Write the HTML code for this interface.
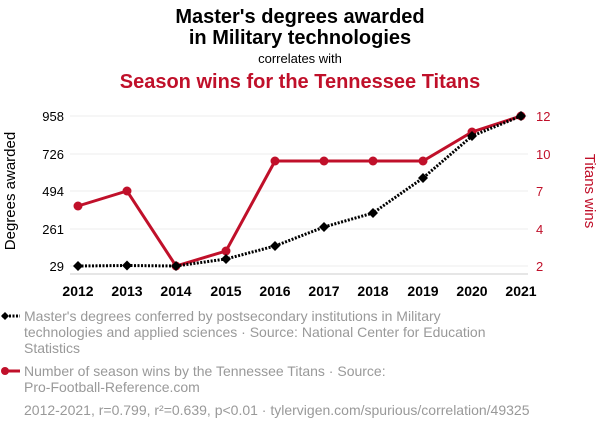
<!DOCTYPE html>
<html><head><meta charset="utf-8"><style>
body{margin:0;background:#fff;width:600px;height:430px;overflow:hidden;font-family:"Liberation Sans",sans-serif}
</style></head><body>
<svg width="600" height="430" xmlns="http://www.w3.org/2000/svg" font-family="Liberation Sans, sans-serif">
<text x="300" y="23" text-anchor="middle" font-size="20" font-weight="bold" fill="#000">Master's degrees awarded</text>
<text x="300" y="44" text-anchor="middle" font-size="20" font-weight="bold" fill="#000">in Military technologies</text>
<text x="300" y="63" text-anchor="middle" font-size="13" fill="#000">correlates with</text>
<text x="300" y="88" text-anchor="middle" font-size="20" font-weight="bold" fill="#c0102a">Season wins for the Tennessee Titans</text>
<g stroke="#eee" stroke-width="1">
<line x1="70" x2="528" y1="116" y2="116"/><line x1="70" x2="528" y1="154" y2="154"/><line x1="70" x2="528" y1="191" y2="191"/><line x1="70" x2="528" y1="229" y2="229"/><line x1="70" x2="528" y1="266" y2="266"/>
</g>
<line x1="70" x2="528" y1="274" y2="274" stroke="#ccc"/>
<g font-size="13" text-anchor="end" fill="#000">
<text x="64" y="121">958</text><text x="64" y="159">726</text><text x="64" y="196">494</text><text x="64" y="234">261</text><text x="64" y="271">29</text>
</g>
<g font-size="13" fill="#c0102a">
<text x="536" y="121">12</text><text x="536" y="159">10</text><text x="536" y="196">7</text><text x="536" y="234">4</text><text x="536" y="271">2</text>
</g>
<text transform="translate(15,191) rotate(-90)" text-anchor="middle" font-size="15" fill="#000">Degrees awarded</text>
<text transform="translate(585,191) rotate(90)" text-anchor="middle" font-size="15" fill="#c0102a">Titans wins</text>
<g font-size="14" font-weight="bold" text-anchor="middle" fill="#000">
<text x="78" y="296">2012</text><text x="127" y="296">2013</text><text x="176" y="296">2014</text><text x="226" y="296">2015</text><text x="275" y="296">2016</text><text x="324" y="296">2017</text><text x="373" y="296">2018</text><text x="423" y="296">2019</text><text x="472" y="296">2020</text><text x="521" y="296">2021</text>
</g>
<polyline fill="none" stroke="#c0102a" stroke-width="3" points="78,206 127,191 176,266 226,251 275,161 324,161 373,161 423,161 472,132 521,116"/>
<g fill="#c0102a">
<circle cx="78" cy="206" r="4.5"/><circle cx="127" cy="191" r="4.5"/><circle cx="176" cy="266" r="4.5"/><circle cx="226" cy="251" r="4.5"/><circle cx="275" cy="161" r="4.5"/><circle cx="324" cy="161" r="4.5"/><circle cx="373" cy="161" r="4.5"/><circle cx="423" cy="161" r="4.5"/><circle cx="472" cy="132" r="4.5"/><circle cx="521" cy="116" r="4.5"/>
</g>
<polyline fill="none" stroke="#000" stroke-width="3" stroke-dasharray="2,1.5" points="78,266 127,265.5 176,266 226,259 275,246 324,227 373,213 423,178 472,136 521,116"/>
<g fill="#000">
<path d="M78 261l5 5-5 5-5-5z"/><path d="M127 260.5l5 5-5 5-5-5z"/><path d="M176 261l5 5-5 5-5-5z"/><path d="M226 254l5 5-5 5-5-5z"/><path d="M275 241l5 5-5 5-5-5z"/><path d="M324 222l5 5-5 5-5-5z"/><path d="M373 208l5 5-5 5-5-5z"/><path d="M423 173l5 5-5 5-5-5z"/><path d="M472 131l5 5-5 5-5-5z"/><path d="M521 111l5 5-5 5-5-5z"/>
</g>
<line x1="2" x2="20" y1="316" y2="316" stroke="#000" stroke-width="3" stroke-dasharray="2,1.5"/>
<path d="M5 312l4 4-4 4-4-4z" fill="#000"/>
<g font-size="14" fill="#999">
<text x="24" y="321">Master's degrees conferred by postsecondary institutions in Military</text>
<text x="24" y="337">technologies and applied sciences · Source: National Center for Education</text>
<text x="24" y="353">Statistics</text>
<text x="24" y="376">Number of season wins by the Tennessee Titans · Source:</text>
<text x="24" y="392">Pro-Football-Reference.com</text>
<text x="24" y="415">2012-2021, r=0.799, r²=0.639, p&lt;0.01 · tylervigen.com/spurious/correlation/49325</text>
</g>
<line x1="2" x2="20" y1="371" y2="371" stroke="#c0102a" stroke-width="3"/>
<circle cx="5" cy="371" r="4" fill="#c0102a"/>
</svg>
</body></html>
